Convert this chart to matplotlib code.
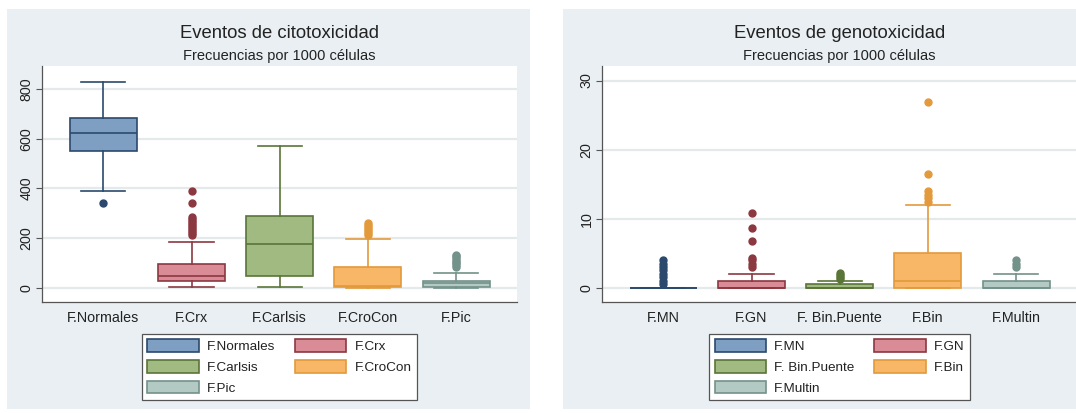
import matplotlib
matplotlib.use("Agg")
import matplotlib.pyplot as plt
from matplotlib.patches import Patch, Rectangle

plt.rcParams['font.family'] = ['Liberation Sans', 'DejaVu Sans']

# citotoxicidad (frecuencias por 1000 celulas)
cito_labels = ["F.Normales", "F.Crx", "F.Carlsis", "F.CroCon", "F.Pic"]
cito_q1 = [551, 29, 48, 3, 5]
cito_med = [621, 48, 176, 10, 19]
cito_q3 = [683, 96, 289, 83, 29]
cito_lo = [388, 3, 3, 0, 0]
cito_hi = [828, 184, 571, 197, 61]
cito_out = [
    [341],
    [212, 220, 228, 236, 244, 252, 260, 268, 276, 284, 341, 389],
    [],
    [212, 220, 228, 236, 244, 252, 260],
    [85, 92, 99, 106, 113, 120, 127, 132],
]

# genotoxicidad
geno_labels = ["F.MN", "F.GN", "F. Bin.Puente", "F.Bin", "F.Multin"]
geno_q1 = [0, 0, 0, 0, 0]
geno_med = [0, 0, 0, 1, 0]
geno_q3 = [0, 1, 0.5, 5, 1]
geno_lo = [0, 0, 0, 0, 0]
geno_hi = [0, 2, 1, 12, 2]
geno_out = [
    [0.5, 1, 1.5, 2, 2.5, 3, 3.5, 4],
    [3, 3.5, 4, 4.3, 6.7, 8.7, 10.8],
    [1.3, 1.6, 1.9, 2.2],
    [12.4, 13, 13.5, 14, 16.4, 26.9],
    [3, 3.5, 4],
]

fills = ["#7f9fc2", "#d98b96", "#a0ba82", "#f8b667", "#b3c9c3"]
edges = ["#2a496c", "#8c3841", "#5a7538", "#e39a3c", "#73928a"]
bg = "#e9eff2"
grid = "#e4e9ec"

W, H = 1076, 413
fig = plt.figure(figsize=(W / 100, H / 100), dpi=100)
fig.patch.set_facecolor("white")


def rect(x0, y0, x1, y1):
    return [x0 / W, 1 - y1 / H, (x1 - x0) / W, (y1 - y0) / H]


for x0, x1 in [(7, 530), (563, 1090)]:
    r = rect(x0, 9, x1, 409)
    fig.patches.append(Rectangle((r[0], r[1]), r[2], r[3], transform=fig.transFigure,
                                 facecolor=bg, edgecolor="none", zorder=-5))


def panel(box, labels, q1, med, q3, lo, hi, out, ylim, yticks, title, legpad, colsp):
    ax = fig.add_axes(rect(*box))
    ax.set_facecolor("white")
    for i in range(len(labels)):
        st = dict(q1=q1[i], med=med[i], q3=q3[i], whislo=lo[i], whishi=hi[i], fliers=out[i])
        ax.bxp([st], positions=[i + 1], widths=0.76, capwidths=0.5, patch_artist=True,
               manage_ticks=False, showfliers=True,
               boxprops=dict(facecolor=fills[i], edgecolor=edges[i], linewidth=1.2),
               medianprops=dict(color=edges[i], linewidth=1.2),
               whiskerprops=dict(color=edges[i], linewidth=1.2),
               capprops=dict(color=edges[i], linewidth=1.2),
               flierprops=dict(marker="o", markerfacecolor=edges[i],
                               markeredgecolor=edges[i], markersize=5))
    ax.set_xlim(0.305, 5.69)
    ax.set_ylim(*ylim)
    ax.set_xticks(range(1, 6))
    ax.set_xticklabels(labels, fontsize=10.3, color="#222222")
    ax.tick_params(axis="x", length=0, pad=6.5)
    ax.set_yticks(yticks)
    ax.set_yticklabels([str(t) for t in yticks], rotation=90, va="center",
                       fontsize=10.3, color="#222222")
    ax.tick_params(axis="y", length=4, width=0.8, color="#555555", pad=2)
    ax.yaxis.grid(True, color=grid, linewidth=1.6)
    ax.set_axisbelow(True)
    for s in ["top", "right"]:
        ax.spines[s].set_visible(False)
    for s in ["left", "bottom"]:
        ax.spines[s].set_color("#555555")
        ax.spines[s].set_linewidth(0.9)

    cx = (box[0] + box[2]) / 2
    fig.text(cx / W, 1 - 34 / H, title, ha="center", va="center",
             fontsize=13.3, color="#222222")
    fig.text(cx / W, 1 - 56 / H, "Frecuencias por 1000 células", ha="center",
             va="center", fontsize=10.5, color="#222222")

    order = [0, 2, 4, 1, 3]
    handles = [Patch(facecolor=fills[i], edgecolor=edges[i], linewidth=1.2,
                     label=labels[i]) for i in order]
    leg = ax.legend(handles=handles, ncol=2, loc="upper center",
                    bbox_to_anchor=(cx / W, 1 - 334 / H), bbox_transform=fig.transFigure,
                    fontsize=9.7, frameon=True, fancybox=False, shadow=False,
                    framealpha=1, edgecolor="#555555", handlelength=3.8,
                    handleheight=1.06, handletextpad=0.6, columnspacing=colsp,
                    labelspacing=0.5, borderpad=legpad, borderaxespad=0)
    leg.get_frame().set_linewidth(0.9)
    for t in leg.get_texts():
        t.set_color("#222222")
    return ax


panel((42, 66, 517, 302), cito_labels, cito_q1, cito_med, cito_q3, cito_lo, cito_hi,
      cito_out, (-56, 892), [0, 200, 400, 600, 800], "Eventos de citotoxicidad", 0.4, 1.5)
panel((602, 66, 1077, 302), geno_labels, geno_q1, geno_med, geno_q3, geno_lo, geno_hi,
      geno_out, (-2.06, 32.1), [0, 10, 20, 30], "Eventos de genotoxicidad", 0.4, 1.5)

fig.savefig("out.png", dpi=100, facecolor=fig.get_facecolor())
